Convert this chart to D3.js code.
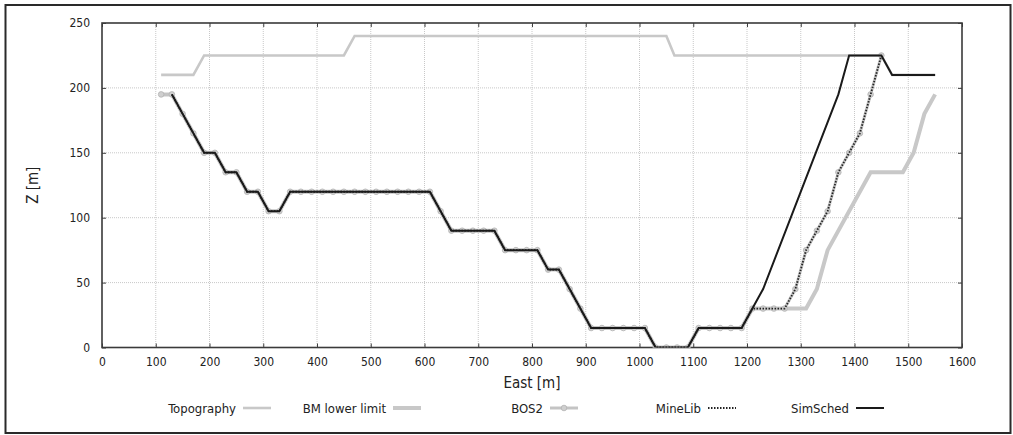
<!DOCTYPE html>
<html><head><meta charset="utf-8">
<script src="https://cdn.jsdelivr.net/npm/d3@7"></script>
<style>body{margin:0;background:#fff;} svg{display:block;font-family:"DejaVu Sans Condensed","DejaVu Sans",sans-serif;font-stretch:condensed;}</style>
</head><body>
<svg id="c" width="1013" height="435"></svg>
<script>
const xTicks = [0,100,200,300,400,500,600,700,800,900,1000,1100,1200,1300,1400,1500,1600];
const yTicks = [0,50,100,150,200,250];

const topoX = [110,170,190,450,470,1050,1065,1450,1470,1550];
const topoZ = [210,210,225,225,240,240,225,225,210,210];

const bos2X = [110,130,150,170,190,210,230,250,270,290,310,330,350,370,390,410,430,450,470,490,510,530,550,570,590,610,630,650,670,690,710,730,750,770,790,810,830,850,870,890,910,930,950,970,990,1010,1030,1050,1070,1090,1110,1130,1150,1170,1190,1210,1230,1250,1270,1290,1310,1330,1350,1370,1390,1410,1430,1450];
const bos2Z = [195,195,180,165,150,150,135,135,120,120,105,105,120,120,120,120,120,120,120,120,120,120,120,120,120,120,105,90,90,90,90,90,75,75,75,75,60,60,45,30,15,15,15,15,15,15,0,0,0,0,15,15,15,15,15,30,30,30,30,45,75,90,105,135,150,165,195,225];

const bmX = [110,130,150,170,190,210,230,250,270,290,310,330,350,610,630,650,730,750,810,830,850,870,890,910,1010,1030,1090,1110,1190,1210,1310,1330,1350,1430,1490,1510,1530,1550];
const bmZ = [195,195,180,165,150,150,135,135,120,120,105,105,120,120,105,90,90,75,75,60,60,45,30,15,15,0,0,15,15,30,30,45,75,135,135,150,180,195];

const mineX = [130,150,170,190,210,230,250,270,290,310,330,350,610,630,650,730,750,810,830,850,870,890,910,1010,1030,1090,1110,1190,1210,1270,1290,1310,1330,1350,1370,1390,1410,1430,1450];
const mineZ = [195,180,165,150,150,135,135,120,120,105,105,120,120,105,90,90,75,75,60,60,45,30,15,15,0,0,15,15,30,30,45,75,90,105,135,150,165,195,225];

const simX = [130,190,210,230,250,270,290,310,330,350,610,650,730,750,810,830,850,910,1010,1030,1090,1110,1190,1230,1370,1390,1450,1470,1550];
const simZ = [195,150,150,135,135,120,120,105,105,120,120,90,90,75,75,60,60,15,15,0,0,15,15,45,195,225,225,210,210];

const legendNames = ["Topography","BM lower limit","BOS2","MineLib","SimSched"];

const svg = d3.select("#c");
const L=102, R=962, T=23, B=347.5;
const x = d3.scaleLinear().domain([0,1600]).range([L,R]);
const y = d3.scaleLinear().domain([0,250]).range([B,T]);

// outer frame
svg.append("rect").attr("x",5.5).attr("y",5).attr("width",1005).attr("height",428)
  .attr("fill","none").attr("stroke","#2a2a2a").attr("stroke-width",2);

// grid
const grid = svg.append("g");
xTicks.slice(1,-1).forEach(v=>grid.append("line").attr("x1",x(v)).attr("x2",x(v)).attr("y1",T).attr("y2",B)
  .attr("stroke","#c8c8c8").attr("stroke-width",1).attr("stroke-dasharray","1,1"));
yTicks.slice(1,-1).forEach(v=>grid.append("line").attr("x1",L).attr("x2",R).attr("y1",y(v)).attr("y2",y(v))
  .attr("stroke","#c8c8c8").attr("stroke-width",1).attr("stroke-dasharray","1,1"));

// axes
const ff = "DejaVu Sans Condensed, DejaVu Sans";
const fs = "12px";
const gx = svg.append("g").attr("transform",`translate(0,${B})`)
  .call(d3.axisBottom(x).tickValues(xTicks).tickSize(-4).tickPadding(10).tickFormat(d3.format("d")));
const gx2 = svg.append("g").attr("transform",`translate(0,${T})`)
  .call(d3.axisTop(x).tickValues(xTicks).tickSize(-4).tickFormat(""));
const gy = svg.append("g").attr("transform",`translate(${L},0)`)
  .call(d3.axisLeft(y).tickValues(yTicks).tickSize(-4).tickPadding(12).tickFormat(d3.format("d")));
const gy2 = svg.append("g").attr("transform",`translate(${R},0)`)
  .call(d3.axisRight(y).tickValues(yTicks).tickSize(-4).tickFormat(""));
[gx,gx2,gy,gy2].forEach(g=>{
  g.select(".domain").remove();
  g.selectAll(".tick line").attr("stroke","#404040");
  g.selectAll("text").attr("font-family",ff).attr("font-size",fs).attr("fill","#222");
});
svg.append("rect").attr("x",L).attr("y",T).attr("width",R-L).attr("height",B-T)
  .attr("fill","none").attr("stroke","#3a3a3a").attr("stroke-width",1.6);

// axis titles
svg.append("text").attr("x",(L+R)/2).attr("y",388).attr("text-anchor","middle").attr("font-family",ff)
  .attr("font-size","15px").attr("fill","#222").text("East [m]");
svg.append("text").attr("transform",`translate(38,${(T+B)/2}) rotate(-90)`).attr("text-anchor","middle").attr("font-family",ff)
  .attr("font-size","15px").attr("fill","#222").text("Z [m]");

const line = d3.line().x(d=>x(d[0])).y(d=>y(d[1]));
const zip=(a,b)=>a.map((v,i)=>[v,b[i]]);
svg.append("clipPath").attr("id","pc").append("rect").attr("x",L).attr("y",T-3).attr("width",R-L).attr("height",B-T+3);
const plot = svg.append("g").attr("clip-path","url(#pc)");

plot.append("path").attr("d",line(zip(topoX,topoZ))).attr("fill","none").attr("stroke","#c8c8c8").attr("stroke-width",2.6);
plot.append("path").attr("d",line(zip(bmX,bmZ))).attr("fill","none").attr("stroke","#c8c8c8").attr("stroke-width",4);
plot.append("path").attr("d",line(zip(bos2X,bos2Z))).attr("fill","none").attr("stroke","#c4c4c4").attr("stroke-width",3);
plot.selectAll("circle.b").data(zip(bos2X,bos2Z)).enter().append("circle")
  .attr("cx",d=>x(d[0])).attr("cy",d=>y(d[1])).attr("r",2.8)
  .attr("fill","#cfcfcf").attr("stroke","#b4b4b4").attr("stroke-width",0.8);
plot.append("path").attr("d",line(zip(mineX,mineZ))).attr("fill","none").attr("stroke","#222").attr("stroke-width",1.8).attr("stroke-dasharray","1.5,1.5");
plot.append("path").attr("d",line(zip(simX,simZ))).attr("fill","none").attr("stroke","#1a1a1a").attr("stroke-width",2);

// legend
const leg = svg.append("g");
const legTextEnd = [236, 386, 543, 701, 849];
const ly = 408;
legendNames.forEach((n,i)=>{
  leg.append("text").attr("x",legTextEnd[i]).attr("y",ly+4.5).attr("text-anchor","end").attr("font-family",ff)
    .attr("font-size","13px").attr("fill","#222").text(n);
  const x0 = legTextEnd[i]+7, x1 = x0+28;
  const l = leg.append("line").attr("x1",x0).attr("x2",x1).attr("y1",ly).attr("y2",ly);
  if(i===0) l.attr("stroke","#c8c8c8").attr("stroke-width",2.6);
  if(i===1) l.attr("stroke","#c8c8c8").attr("stroke-width",4);
  if(i===2){ l.attr("stroke","#c4c4c4").attr("stroke-width",3);
    leg.append("circle").attr("cx",(x0+x1)/2).attr("cy",ly).attr("r",2.8).attr("fill","#cfcfcf").attr("stroke","#b4b4b4").attr("stroke-width",0.8);}
  if(i===3) l.attr("stroke","#222").attr("stroke-width",1.8).attr("stroke-dasharray","1.5,1.5");
  if(i===4) l.attr("stroke","#1a1a1a").attr("stroke-width",2);
});
</script>
</body></html>
